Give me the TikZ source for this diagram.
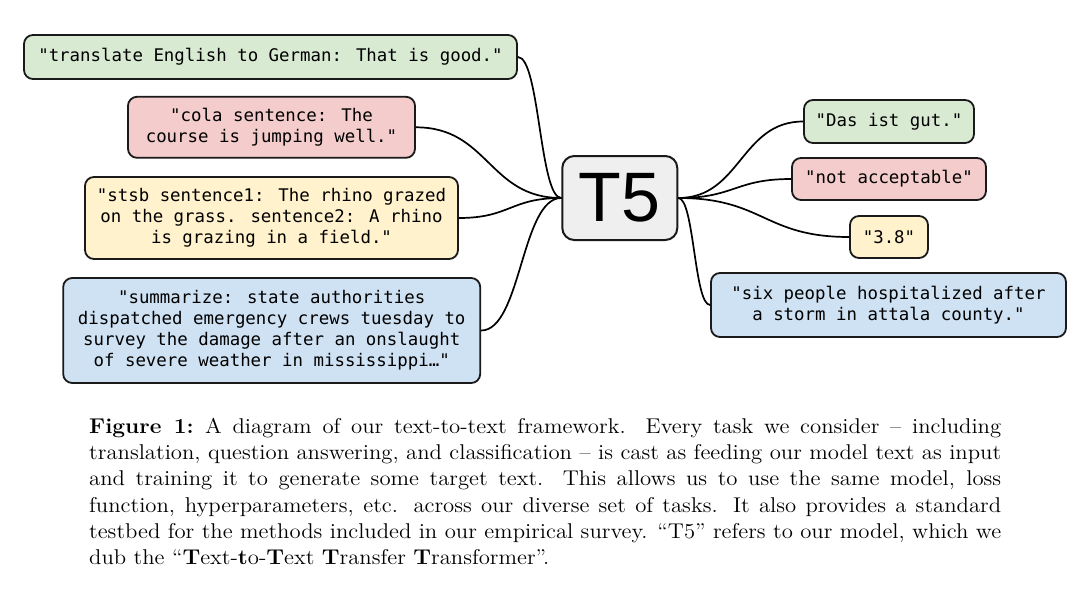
\documentclass[tikz,border=0pt]{standalone}
\usepackage{fontspec}
\usepackage{graphicx}
\usetikzlibrary{calc}
\newfontfamily\monoT{DejaVu Sans Mono}
\newfontfamily\sansT{Liberation Sans}
\definecolor{bordc}{HTML}{1A1A1A}
\definecolor{gfill}{HTML}{D9EAD3}
\definecolor{rfill}{HTML}{F4CCCC}
\definecolor{yfill}{HTML}{FFF2CC}
\definecolor{bfill}{HTML}{CFE2F3}
\definecolor{tfill}{HTML}{EFEFEF}
\newcommand\capfont{\fontsize{11}{13.6}\selectfont}
\newlength\capW
\newlength\capTmp
\newcommand\measureline[1]{\settowidth\capTmp{\capfont #1}\ifdim\capTmp>\capW\global\capW=\capTmp\fi}
\newcommand\lineA{\textbf{Figure 1:}\enspace A diagram of our text-to-text framework. Every task we consider -- including}
\newcommand\lineB{translation, question answering, and classification -- is cast as feeding our model text as input}
\newcommand\lineC{and training it to generate some target text. This allows us to use the same model, loss}
\newcommand\lineD{function, hyperparameters, etc. across our diverse set of tasks. It also provides a standard}
\newcommand\lineE{testbed for the methods included in our empirical survey. ``T5'' refers to our model, which we}
\newcommand\lineF{dub the ``\textbf{T}ext-\textbf{t}o-\textbf{T}ext \textbf{T}ransfer \textbf{T}ransformer''.}
\newcommand\linkit[3]{%
  \coordinate (#3) at ($(#1)!0.5!(#2)$);
  \draw[conn] (#1) .. controls (#3 |- #1) and (#3 |- #2) .. (#2);}
\tikzset{
  tbox/.style={draw=bordc, line width=1.8pt, rounded corners=9pt, inner sep=0pt,
    align=center, font={\monoT\fontsize{17.4}{20.9}\selectfont}, text=black},
  t5box/.style={draw=bordc, line width=2pt, rounded corners=12pt, inner sep=0pt,
    fill=tfill, font={\sansT\fontsize{70}{70}\selectfont}},
  conn/.style={draw=black, line width=1.7pt},
}
\begin{document}
\global\capW=0pt
\measureline{\lineA}\measureline{\lineB}\measureline{\lineC}\measureline{\lineD}\measureline{\lineE}
\edef\sxval{\fpeval{912/\capW}}
\begin{tikzpicture}[x=1pt,y=-1pt]
\useasboundingbox[fill=white] (0,0) rectangle (1080,595);
% left inputs
\node[tbox, fill=gfill, minimum width=493pt, minimum height=44pt] (in1) at (270.5,57) {"translate English to German: That is good."};
\node[tbox, fill=rfill, minimum width=287pt, minimum height=61pt] (in2) at (271.5,127.3) {"cola sentence: The\\course is jumping well."};
\node[tbox, fill=yfill, minimum width=373pt, minimum height=82pt] (in3) at (271.5,218) {"stsb sentence1: The rhino grazed\\on the grass. sentence2: A rhino\\is grazing in a field."};
\node[tbox, fill=bfill, minimum width=417pt, minimum height=105pt] (in4) at (271.7,330.5) {"summarize: state authorities\\dispatched emergency crews tuesday to\\survey the damage after an onslaught\\of severe weather in mississippi…"};
% model
\node[t5box, minimum width=115pt, minimum height=84pt] (t5) at (619.8,198) {T5};
% right outputs
\node[tbox, fill=gfill, minimum width=170pt, minimum height=43pt] (out1) at (889,121.5) {"Das ist gut."};
\node[tbox, fill=rfill, minimum width=194pt, minimum height=42pt] (out2) at (889,179) {"not acceptable"};
\node[tbox, fill=yfill, minimum width=78pt, minimum height=42pt] (out3) at (889,237) {"3.8"};
\node[tbox, fill=bfill, minimum width=355pt, minimum height=64pt] (out4) at (888.5,305) {"six people hospitalized after\\a storm in attala county."};
% connectors
\linkit{in1.east}{t5.west}{ma}
\linkit{in2.east}{t5.west}{mb}
\linkit{in3.east}{t5.west}{mc}
\linkit{in4.east}{t5.west}{md}
\linkit{t5.east}{out1.west}{me}
\linkit{t5.east}{out2.west}{mf}
\linkit{t5.east}{out3.west}{mg}
\linkit{t5.east}{out4.west}{mh}
% caption
\node[anchor=base west, inner sep=0pt] (cap) at (89,433) {\scalebox{\sxval}[1.941]{\vtop{\capfont
  \hbox to \capW{\lineA}
  \hbox to \capW{\lineB}
  \hbox to \capW{\lineC}
  \hbox to \capW{\lineD}
  \hbox to \capW{\lineE}
  \hbox{\lineF}}}};
\end{tikzpicture}
\end{document}
